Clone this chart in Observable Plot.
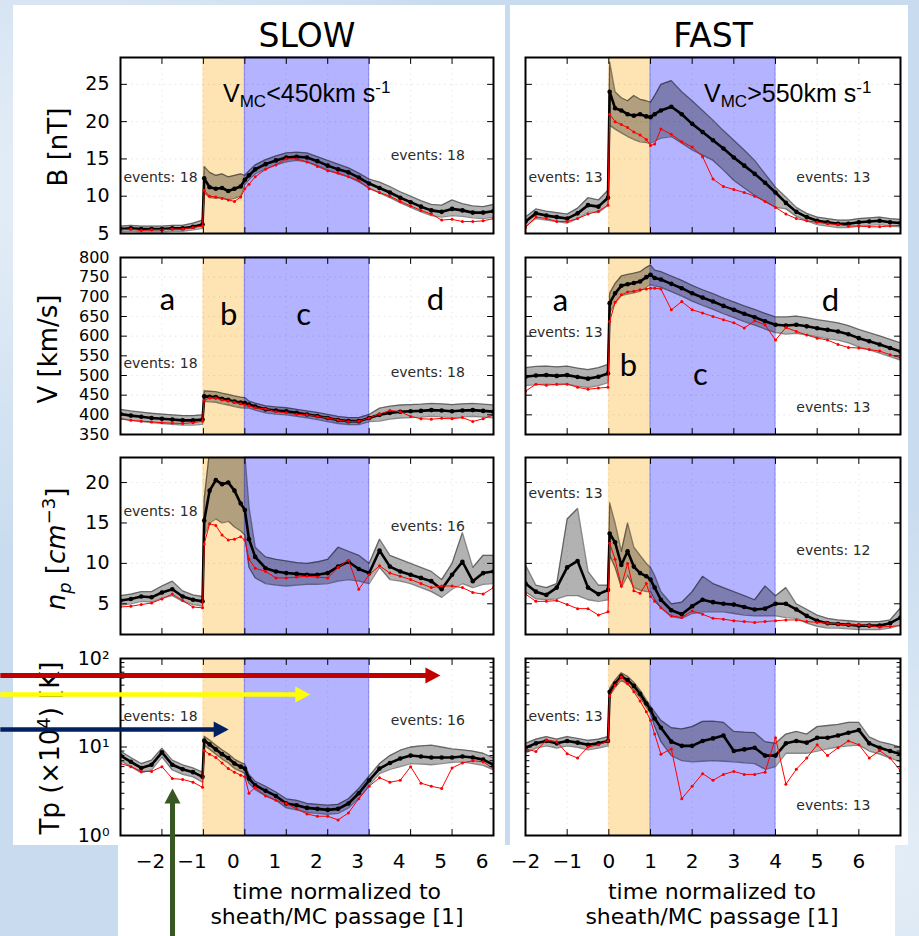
<!DOCTYPE html>
<html>
<head>
<meta charset="utf-8">
<script src="https://cdn.jsdelivr.net/npm/d3@7"></script>
<script src="https://cdn.jsdelivr.net/npm/@observablehq/plot@0.6"></script>
<style>
html,body{margin:0;padding:0;}
body{width:919px;height:936px;overflow:hidden;background:#c9dcef;}
#root{position:relative;width:919px;height:936px;overflow:hidden;font-family:"DejaVu Sans",sans-serif;color:#000;
 background:
  radial-gradient(ellipse at 8% 20%, rgba(255,255,255,.55), rgba(255,255,255,0) 35%),
  radial-gradient(ellipse at 96% 92%, rgba(255,255,255,.5), rgba(255,255,255,0) 30%),
  #c9dcef;}
.card{position:absolute;background:#fff;}
.pl{position:absolute;}
.pl svg{overflow:visible;display:block;}
.ttl{position:absolute;font-size:33px;line-height:33px;transform:translateX(-50%);white-space:nowrap;}
.yl{position:absolute;font-size:26px;line-height:30px;white-space:nowrap;transform:translate(-50%,-50%) rotate(-90deg);}
.yl sub,.yl sup{font-size:18px;}
.xt{position:absolute;font-size:22px;line-height:25px;text-align:center;transform:translateX(-50%);white-space:nowrap;}
.vmc{position:absolute;font-family:"Liberation Sans",Arial,sans-serif;font-size:25px;line-height:25px;white-space:nowrap;}
.vmc sub{font-size:17px;vertical-align:-5px;}
.vmc sup{font-size:17px;vertical-align:9px;}
</style>
</head>
<body>
<div id="root">
  <div class="card" style="left:13px;top:5px;width:492px;height:840px"></div>
  <div class="card" style="left:510px;top:5px;width:398px;height:840px"></div>
  <div class="card" style="left:118px;top:845px;width:777px;height:91px"></div>

  <div class="ttl" style="left:307px;top:19px">SLOW</div>
  <div class="ttl" style="left:713px;top:19px">FAST</div>

  <div class="yl" style="left:58px;top:147px">B [nT]</div>
  <div class="yl" style="left:48px;top:349px">V [km/s]</div>
  <div class="yl" style="left:57px;top:549px"><i>n</i><sub><i>p</i></sub> [<i>cm</i><sup>−3</sup>]</div>
  <div class="yl" style="left:47px;top:748px">Tp (×10<sup>4</sup>) [K]</div>

  <div class="xt" style="left:337px;top:879px">time normalized to<br>sheath/MC passage [1]</div>
  <div class="xt" style="left:712px;top:879px">time normalized to<br>sheath/MC passage [1]</div>
</div>
<script>
// ---------- shared x grid (time normalized to sheath/MC passage) ----------
const X = [-2,-1.75,-1.5,-1.25,-1,-0.75,-0.5,-0.25,-0.02,
           0.02,0.15,0.3,0.45,0.6,0.75,0.9,1.0,
           1.1,1.25,1.5,1.75,2,2.25,2.5,2.75,3,3.25,3.5,3.75,4,
           4.25,4.5,4.75,5,5.25,5.5,5.75,6,6.25,6.5,6.75,7];

// ---------- B [nT] ----------
const SLOW_B_MED = [5.6,5.7,5.6,5.6,5.6,5.7,5.7,5.9,6.2, 12.4,11.2,11.0,11.1,10.7,11.0,11.3,12.2, 12.8,13.6,14.3,14.8,15.2,15.3,15.2,14.7,14.1,13.6,13.2,12.5,11.7, 11.1,10.5,9.8,9.2,8.6,8.1,7.9,8.3,8.1,7.8,7.8,8.0];
const SLOW_B_LO  = [5.2,5.3,5.2,5.2,5.2,5.3,5.3,5.5,5.7, 10.5,9.8,9.7,9.8,9.5,9.7,10.0,11.6, 12.2,13.0,13.7,14.2,14.6,14.8,14.6,14.1,13.5,13.0,12.6,11.9,11.1, 10.4,9.8,9.1,8.5,7.9,7.4,7.2,7.4,7.3,7.1,7.0,7.2];
const SLOW_B_HI  = [6.0,6.1,6.0,6.0,6.0,6.1,6.1,6.4,6.8, 14.0,13.2,12.8,13.0,12.6,12.8,13.0,12.8, 13.4,14.2,14.9,15.4,15.8,15.9,15.8,15.3,14.8,14.3,13.8,13.1,12.3, 11.9,11.3,10.6,10.0,9.4,8.9,8.8,9.5,9.0,8.7,8.6,8.9];
const SLOW_B_RED = [5.5,5.6,5.4,5.5,5.5,5.6,5.6,5.8,6.0, 10.8,10.0,9.9,9.7,9.5,9.3,9.9,11.0, 11.6,12.6,13.6,14.2,15.0,15.0,14.6,14.0,13.4,13.1,12.6,12.1,11.0, 10.5,10.0,9.3,8.7,8.1,7.6,6.8,6.9,6.6,6.6,6.7,7.0];

const FAST_B_MED = [6.6,7.7,7.4,7.2,7.0,7.7,8.8,8.6,9.8, 24.0,21.8,21.5,21.0,20.8,21.0,20.7,20.6, 21.0,21.5,22.0,21.0,19.7,18.6,17.5,16.4,15.2,14.1,13.0,11.8,10.5, 9.1,7.9,7.2,6.7,6.5,6.3,6.3,6.5,6.6,6.7,6.5,6.4];
const FAST_B_LO  = [6.0,7.0,6.8,6.6,6.4,7.0,7.9,7.8,8.8, 19.5,19.0,18.5,18.0,17.6,17.3,17.2,17.1, 17.4,17.8,18.0,17.1,16.2,15.5,14.8,13.5,12.1,11.1,10.1,9.3,8.5, 8.3,7.3,6.7,6.2,6.0,5.8,5.8,6.0,6.1,6.2,6.0,5.9];
const FAST_B_HI  = [7.2,8.3,8.0,7.8,7.6,8.4,9.8,9.5,10.8, 28.0,24.0,23.2,22.8,23.5,23.0,22.8,22.6, 23.5,25.0,25.5,24.0,22.8,21.5,20.2,18.8,17.5,16.2,14.8,13.0,11.2, 9.9,8.5,7.7,7.2,7.0,6.8,6.8,7.0,7.1,7.2,7.0,6.9];
const FAST_B_RED = [5.8,7.2,7.0,6.6,6.6,7.0,7.6,8.0,8.8, 21.0,20.0,19.6,19.2,18.6,18.2,17.6,16.8, 17.0,19.0,18.3,17.3,16.6,15.3,12.3,11.3,10.9,10.5,10.0,9.3,8.5, 7.6,7.0,6.7,6.5,6.3,6.2,6.0,6.0,5.9,5.9,6.0,6.1];

// ---------- V [km/s] ----------
const SLOW_V_MED = [402,398,395,392,390,388,386,386,388, 447,446,445,441,438,434,431,430, 426,421,414,411,409,405,401,397,392,387,384,384,392, 400,405,408,409,410,412,411,409,411,412,410,408];
const SLOW_V_LO  = [390,386,383,380,378,376,374,374,376, 434,433,432,428,425,421,418,417, 417,412,405,402,400,396,392,388,383,378,375,375,383, 384,389,392,393,394,396,395,393,395,396,394,392];
const SLOW_V_HI  = [414,410,407,404,402,400,398,398,400, 461,460,459,455,452,448,445,444, 435,430,423,420,418,414,410,406,401,396,393,393,401, 417,422,425,426,427,429,428,426,428,429,427,425];
const SLOW_V_RED = [390,386,384,382,380,379,378,380,384, 437,443,443,438,435,432,428,425, 423,418,415,408,405,401,400,396,392,387,383,384,392, 402,411,408,396,390,389,391,390,393,383,390,400];

const FAST_V_MED = [497,500,501,499,501,496,492,497,505, 684,709,728,732,735,739,750,756, 748,744,733,722,709,698,688,677,667,657,648,638,629, 627,629,625,620,616,612,605,595,587,579,570,561];
const FAST_V_LO  = [474,477,478,476,478,473,469,474,482, 659,684,703,707,710,714,725,731, 728,724,713,702,689,678,668,657,647,637,628,618,609, 605,607,603,598,594,590,583,573,565,557,548,539];
const FAST_V_HI  = [520,523,524,522,524,519,515,520,528, 709,734,753,757,760,764,775,781, 768,764,753,742,729,718,708,697,687,677,668,658,649, 649,651,647,642,638,634,627,617,609,601,592,583];
const FAST_V_RED = [460,478,475,478,478,470,465,468,470, 637,686,705,712,714,718,720,722, 722,720,667,688,667,659,650,642,634,621,639,629,590, 622,612,603,595,590,579,571,570,566,562,553,545];

// ---------- n_p [cm^-3] ----------
const SLOW_N_MED = [5.4,5.6,5.9,5.8,6.4,6.8,5.9,5.5,5.3, 15.3,19.0,20.3,19.8,20.0,19.0,17.4,16.6, 13.0,10.8,9.4,9.0,8.8,8.7,8.6,8.6,8.8,9.6,10.2,9.3,8.8, 11.6,9.6,9.0,8.6,8.2,7.8,6.8,8.6,10.2,7.8,8.8,9.0];
const SLOW_N_LO  = [4.8,5.0,5.3,5.2,5.7,6.0,5.3,4.9,4.7, 13.5,15.0,15.5,15.0,15.2,14.5,14.0,13.5, 9.5,8.2,7.5,7.3,7.2,7.3,7.4,7.4,7.5,7.8,8.0,7.8,7.5, 9.5,8.0,7.8,7.5,7.0,6.5,5.8,6.8,7.5,7.0,7.4,7.5];
const SLOW_N_HI  = [6.0,6.2,6.5,6.5,7.2,7.8,6.6,6.1,5.9, 18.0,24,24,24,24,24,23.5,23.5, 17.0,12.0,10.8,10.5,10.3,10.1,10.0,10.2,10.5,12.0,11.5,11.0,10.0, 13.0,11.0,10.5,10.0,9.5,9.0,8.0,10.0,13.8,9.5,11.0,11.0];
const SLOW_N_RED = [4.6,4.7,4.9,5.1,5.6,6.2,5.4,4.6,4.5, 12.4,14.9,14.7,13.5,12.9,13.0,13.3,12.9, 10.5,9.4,9.0,8.2,8.2,8.3,8.4,8.3,8.2,9.5,10.4,6.8,8.6, 9.7,8.8,8.4,8.0,7.5,7.0,7.2,7.2,7.0,6.4,6.2,7.0];

const FAST_N_MED = [7.5,6.5,6.1,7.0,9.5,10.3,7.0,6.2,6.7, 13.7,12.6,9.8,11.5,9.6,8.8,8.4,8.0, 7.0,5.5,4.2,3.7,4.7,5.5,5.2,5.0,4.9,4.6,4.3,4.4,5.0, 5.0,4.3,3.5,2.9,2.6,2.5,2.4,2.3,2.3,2.3,2.6,3.3];
const FAST_N_LO  = [6.5,5.6,5.5,5.6,6.0,6.0,5.5,5.3,5.5, 11.0,9.5,7.0,8.5,7.0,6.7,6.5,6.5, 5.5,4.5,3.4,3.2,3.8,4.0,4.0,4.0,3.8,3.6,3.5,3.5,3.5, 3.3,3.2,2.6,2.2,2.0,2.0,1.9,1.8,1.8,1.8,2.0,2.4];
const FAST_N_HI  = [9.8,7.3,7.0,7.5,15.5,16.8,9.0,7.3,7.3, 17.5,15.0,11.5,15.0,12.0,11.0,10.0,9.5, 8.5,6.5,5.0,5.2,6.5,8.4,7.5,7.0,6.5,6.0,5.5,7.2,6.0, 7.0,5.0,4.3,3.6,3.2,3.0,2.9,2.8,2.8,2.8,3.0,4.5];
const FAST_N_RED = [6.2,5.3,5.3,5.4,4.9,4.4,4.4,3.6,4.0, 12.5,10.5,7.2,10.0,6.6,6.3,7.5,5.9, 5.3,4.5,3.5,3.3,4.1,3.7,3.2,3.1,2.9,2.8,2.7,2.8,2.9, 3.0,3.0,2.8,2.7,2.6,2.5,2.4,2.4,2.3,2.1,2.2,2.3];

// ---------- Tp (x10^4) [K] ----------
const SLOW_T_MED = [8.0,6.8,5.8,6.3,8.7,6.3,5.6,5.2,4.6, 11.8,10.7,9.4,8.3,7.5,6.5,6.0,5.7, 4.4,3.7,3.2,2.8,2.3,2.2,2.05,2.0,1.95,2.0,2.3,3.0,4.2, 5.7,6.6,7.4,8.0,7.8,7.6,7.6,7.6,7.8,7.6,7.2,6.3];
const SLOW_T_LO  = [7.0,6.0,5.1,5.5,7.7,5.5,4.9,4.6,4.0, 10.4,9.4,8.3,7.3,6.6,5.7,5.3,5.0, 3.9,3.3,2.8,2.5,2.05,1.95,1.82,1.78,1.73,1.78,2.05,2.65,3.7, 5.0,5.6,6.0,6.5,6.4,6.3,6.5,6.7,6.8,6.5,6.2,5.5];
const SLOW_T_HI  = [9.0,7.6,6.5,7.1,9.7,7.1,6.3,5.8,5.2, 13.2,12.0,10.5,9.3,8.4,7.3,6.7,6.4, 4.9,4.1,3.6,3.1,2.6,2.5,2.3,2.25,2.2,2.25,2.6,3.4,4.7, 6.5,8.0,9.2,10.0,10.3,10.5,10.0,9.5,9.3,9.0,8.5,7.5];
const SLOW_T_RED = [6.5,6.0,5.3,5.3,6.0,4.4,4.3,4.0,3.5, 9.1,8.3,7.6,6.6,5.7,5.2,4.8,4.6, 3.0,3.5,2.8,2.5,2.3,2.0,1.75,1.65,1.65,1.5,1.8,2.6,3.6, 4.5,4.0,4.2,6.0,3.9,3.6,3.4,5.8,6.6,7.0,6.8,5.7];

const FAST_T_MED = [9.8,11.0,11.7,11.0,11.7,11.2,10.6,11.0,11.7, 42,52,63,57,49,40,31,26.5, 21,16.5,11.5,10.3,10.3,11.7,12.5,13.5,9.0,9.4,9.8,8.0,8.0, 11.0,11.7,11.2,12.7,12.7,13.5,14.5,15.5,11.0,9.8,9.0,8.3];
const FAST_T_LO  = [8.6,9.7,10.3,9.7,10.3,9.9,9.3,9.7,10.3, 38,47,57,51,44,36,28,24, 17,11.5,8.0,7.0,6.8,6.9,7.0,6.9,6.8,6.6,6.5,5.6,6.0, 8.5,8.5,8.5,9.0,9.5,10.0,10.3,10.5,9.0,8.3,7.5,6.8];
const FAST_T_HI  = [11.0,12.3,13.1,12.3,13.1,12.5,11.9,12.3,13.1, 46,57,69,63,54,44,34,29, 25,20,16.5,16,17,19.5,19.6,19.0,15,14.7,14.5,11.5,11, 14,15,14,17,17.5,18,19,19,13,11.5,10.8,10];
const FAST_T_RED = [9.5,8.9,12.0,11.5,8.4,7.5,10.0,10.6,11.7, 38,50,62,52,42,33,25,20, 14,8.3,9.5,2.6,3.6,5.0,4.2,4.9,5.3,4.9,4.9,5.2,12.7, 3.8,5.6,7.5,10.6,8.0,9.8,11.7,10.6,7.5,9.1,7.5,5.4];

// ---------- regions: b = sheath, c = magnetic cloud ----------
const SPAN_X1 = [0, 1];
const SPAN_X2 = [1, 4];
const SPAN_FILL = ["#ffe4b3", "#b3b3ff"];
const SPAN_EDGE = ["#ffe4b3", "#8585f2"];

// ---------- axes ----------
const GRID_X = [-1,0,1,2,3,4,5,6];
const XTICK_LABELS = [-2,-1,0,1,2,3,4,5,6];
const B_TICKS = [5,10,15,20,25];
const V_TICKS = [350,400,450,500,550,600,650,700,750,800];
const N_TICKS = [5,10,15,20];
const T_TICKS = [1,10,100];
const T_MINOR = [2,3,4,5,6,7,8,9,20,30,40,50,60,70,80,90];
const T_LABELS = ["10⁰","10¹","10²"];

// ---------- annotations ----------
const EV_SB = [["events: 18",-1.93,12.5],["events: 18",4.52,15.5]];
const EV_FB = [["events: 13",-1.93,12.5],["events: 13",4.5,12.5]];
const EV_SV = [["events: 18",-1.93,530],["events: 18",4.52,507]];
const EV_FV = [["events: 13",-1.93,609],["events: 13",4.5,419]];
const EV_SN = [["events: 18",-1.93,16.4],["events: 16",4.52,14.6]];
const EV_FN = [["events: 13",-1.93,18.7],["events: 12",4.5,11.6]];
const EV_ST = [["events: 18",-1.93,22.1],["events: 16",4.52,19.9]];
const EV_FT = [["events: 13",-1.93,22.1],["events: 13",4.5,2.18]];
const LET_SV = [["a",-0.87,692],["b",0.61,653],["c",2.42,653],["d",5.6,692]];
const LET_FV = [["a",-1.16,690],["b",0.47,525],["c",2.2,500],["d",5.32,690]];

// arrows drawn over the slow temperature panel
const ARROW_X1 = [-4.9,-4.9,-4.9,-0.745];
const ARROW_X2 = [5.72,2.58,0.61,-0.745];
const ARROW_Y1 = [64.3,39.2,15.8,0.07];
const ARROW_Y2 = [64.3,39.2,15.8,3.4];
const ARROW_COLOR = ["#c00000","#ffff00","#002060","#385723"];
const ARROW_WIDTH = [5,4.5,4.5,5];
const ARROW_ROT = [90,90,90,0];

// ---------- layout ----------
const ROW_TOP = [57,257,457,658];
const ROW_H = [176,177,177,177];

const tickLine = {draw(ctx, l){ ctx.moveTo(0,0); ctx.lineTo(0,-l); }};
const headShape = {draw(ctx, l){ ctx.moveTo(-8,0); ctx.lineTo(0,-l); ctx.lineTo(8,0); ctx.closePath(); }};

const PANELS = [
  {col:"L",row:0,med:SLOW_B_MED,lo:SLOW_B_LO,hi:SLOW_B_HI,red:SLOW_B_RED,domain:[5,28.6],ticks:B_TICKS,grid:[10,15,20,25],ev:EV_SB,fs:19},
  {col:"R",row:0,med:FAST_B_MED,lo:FAST_B_LO,hi:FAST_B_HI,red:FAST_B_RED,domain:[5,28.6],ticks:B_TICKS,grid:[10,15,20,25],ev:EV_FB,fs:19},
  {col:"L",row:1,med:SLOW_V_MED,lo:SLOW_V_LO,hi:SLOW_V_HI,red:SLOW_V_RED,domain:[350,800],ticks:V_TICKS,grid:V_TICKS.slice(1,-1),ev:EV_SV,letters:LET_SV,fs:16},
  {col:"R",row:1,med:FAST_V_MED,lo:FAST_V_LO,hi:FAST_V_HI,red:FAST_V_RED,domain:[350,800],ticks:V_TICKS,grid:V_TICKS.slice(1,-1),ev:EV_FV,letters:LET_FV,fs:16},
  {col:"L",row:2,med:SLOW_N_MED,lo:SLOW_N_LO,hi:SLOW_N_HI,red:SLOW_N_RED,domain:[1.2,23.1],ticks:N_TICKS,grid:N_TICKS,ev:EV_SN,fs:19},
  {col:"R",row:2,med:FAST_N_MED,lo:FAST_N_LO,hi:FAST_N_HI,red:FAST_N_RED,domain:[1.2,23.1],ticks:N_TICKS,grid:N_TICKS,ev:EV_FN,fs:19},
  {col:"L",row:3,med:SLOW_T_MED,lo:SLOW_T_LO,hi:SLOW_T_HI,red:SLOW_T_RED,domain:[1,100],log:true,ticks:T_TICKS,grid:[10],ev:EV_ST,arrows:true,fs:19},
  {col:"R",row:3,med:FAST_T_MED,lo:FAST_T_LO,hi:FAST_T_HI,red:FAST_T_RED,domain:[1,100],log:true,ticks:T_TICKS,grid:[10],ev:EV_FT,fs:19}
];

const root = document.getElementById("root");
const spans = SPAN_X1.map((x1,i)=>({x1, x2:SPAN_X2[i], fill:SPAN_FILL[i], edge:SPAN_EDGE[i]}));
const gridStyle = {stroke:"#000", strokeWidth:1.1, strokeDasharray:"1.3,4.2"};

function makePanel(p){
  const left = p.col === "L";
  const bottom = p.row === 3;
  const data = X.map((x,i)=>({x, med:p.med[i], lo:p.lo[i], hi:p.hi[i], red:p.red[i]}));
  const mb = bottom ? 45 : 0;
  const yTickInner = p.log ? [10] : p.ticks;
  const marks = [
    Plot.rect(spans, {x1:"x1", x2:"x2", fill:"fill", stroke:"edge", strokeWidth:1}),
    Plot.gridX(GRID_X, gridStyle),
    Plot.gridY(p.grid, gridStyle),
    Plot.areaY(data, {x:"x", y1:"lo", y2:"hi", fill:"#000", fillOpacity:0.3, clip:true}),
    Plot.line(data, {x:"x", y:"lo", stroke:"#000", strokeOpacity:0.45, strokeWidth:1.3, clip:true}),
    Plot.line(data, {x:"x", y:"hi", stroke:"#000", strokeOpacity:0.45, strokeWidth:1.3, clip:true}),
    Plot.line(data, {x:"x", y:"med", stroke:"#000", strokeWidth:2.6, clip:true}),
    Plot.dot(data, {x:"x", y:"med", r:2.3, fill:"#000", clip:true}),
    Plot.line(data, {x:"x", y:"red", stroke:"#ff0000", strokeWidth:1, clip:true}),
    Plot.dot(data, {x:"x", y:"red", r:1.5, fill:"#ff0000", clip:true}),
    Plot.frame({stroke:"#000", strokeWidth:2}),
    Plot.vector(GRID_X, {x:d=>d, frameAnchor:"bottom", rotate:0, length:6, anchor:"start", shape:tickLine, stroke:"#000", strokeWidth:1}),
    Plot.vector(GRID_X, {x:d=>d, frameAnchor:"top", rotate:180, length:6, anchor:"start", shape:tickLine, stroke:"#000", strokeWidth:1}),
    Plot.vector(yTickInner, {y:d=>d, frameAnchor:"left", rotate:90, length:6, anchor:"start", shape:tickLine, stroke:"#000", strokeWidth:1}),
    Plot.vector(yTickInner, {y:d=>d, frameAnchor:"right", rotate:-90, length:6, anchor:"start", shape:tickLine, stroke:"#000", strokeWidth:1}),
    Plot.text(p.ev, {x:d=>d[1], y:d=>d[2], text:d=>d[0], textAnchor:"start", lineAnchor:"middle", fontSize:14, fontFamily:"DejaVu Sans", fill:"#2b2b2b"})
  ];
  if (p.log) {
    marks.push(
      Plot.vector(T_MINOR, {y:d=>d, frameAnchor:"left", rotate:90, length:3.5, anchor:"start", shape:tickLine, stroke:"#000", strokeWidth:1}),
      Plot.vector(T_MINOR, {y:d=>d, frameAnchor:"right", rotate:-90, length:3.5, anchor:"start", shape:tickLine, stroke:"#000", strokeWidth:1})
    );
  }
  if (p.letters) {
    marks.push(Plot.text(p.letters, {x:d=>d[1], y:d=>d[2], text:d=>d[0], textAnchor:"middle", lineAnchor:"middle", fontSize:31, fontFamily:"Lato, 'Open Sans', sans-serif", fill:"#000"}));
  }
  if (left) {
    marks.push(Plot.axisY({ticks:p.ticks, tickSize:0, tickPadding:11, fontSize:p.fs, fontFamily:"DejaVu Sans", label:null,
      tickFormat: p.log ? (d => T_LABELS[T_TICKS.indexOf(d)]) : (d => String(d))}));
  }
  if (bottom) {
    marks.push(Plot.axisX({ticks:XTICK_LABELS, tickSize:0, tickPadding:18, dx: left ? 30 : 0, fontSize:20, fontFamily:"DejaVu Sans", label:null}));
  }
  if (p.arrows) {
    const arr = ARROW_X1.map((x1,i)=>({x1, x2:ARROW_X2[i], y1:ARROW_Y1[i], y2:ARROW_Y2[i], color:ARROW_COLOR[i], w:ARROW_WIDTH[i], rot:ARROW_ROT[i]}));
    marks.push(
      Plot.arrow(arr, {x1:"x1", y1:"y1", x2:"x2", y2:"y2", stroke:"color", strokeWidth:"w", headLength:0, insetEnd:10, strokeLinecap:"butt"}),
      Plot.vector(arr, {x:"x2", y:"y2", rotate:"rot", length:15, anchor:"end", shape:headShape, fill:"color", stroke:"none"})
    );
  }
  const svg = Plot.plot({
    width: left ? 510 : 400,
    height: ROW_H[p.row] + mb,
    marginLeft: left ? 120 : 15,
    marginRight: left ? 17 : 10,
    marginTop: 0,
    marginBottom: mb,
    x: {domain:[-2,7], axis:null, label:null},
    y: {domain:p.domain, type: p.log ? "log" : "linear", axis:null, label:null},
    style: {background:"transparent", overflow:"visible", fontFamily:"DejaVu Sans", fontSize:"19px", color:"#000"},
    marks
  });
  const div = document.createElement("div");
  div.className = "pl";
  div.style.left = (left ? 0 : 510) + "px";
  div.style.top = ROW_TOP[p.row] + "px";
  div.appendChild(svg);
  root.appendChild(div);
}
PANELS.forEach(makePanel);

// V_MC annotations (HTML text with sub/superscripts)
const VMC = [["<", "450", 223], [">", "550", 704]];
VMC.forEach(([op, v, left]) => {
  const el = document.createElement("div");
  el.className = "vmc";
  el.style.left = left + "px";
  el.style.top = "75px";
  el.innerHTML = `V<sub>MC</sub>${op}${v}km s<sup>-1</sup>`;
  root.appendChild(el);
});
</script>
</body>
</html>
